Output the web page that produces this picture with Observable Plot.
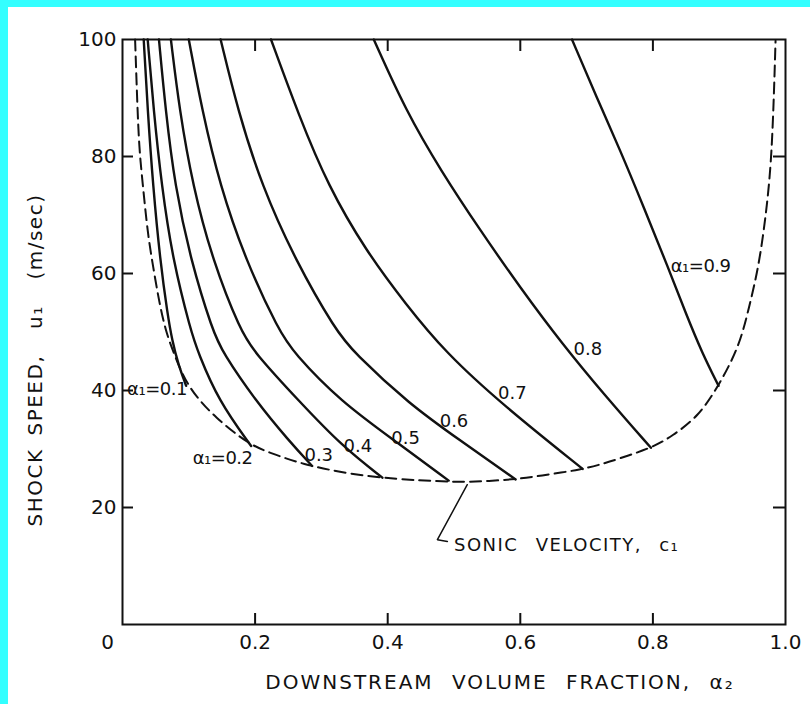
<!DOCTYPE html>
<html>
<head>
<meta charset="utf-8">
<script src="https://cdn.jsdelivr.net/npm/d3@7"></script>
<script src="https://cdn.jsdelivr.net/npm/@observablehq/plot@0.6"></script>
<style>
  html, body { margin: 0; padding: 0; background: #33ffff; width: 810px; height: 704px; overflow: hidden; }
  #wrap { position: absolute; left: 8px; top: 7px; width: 802px; height: 697px; background: #ffffff; }
  #wrap svg { display: block; }
</style>
</head>
<body>
<div id="wrap"></div>
<script>
// ---- Data ----
const alpha1Levels = [0.1, 0.2, 0.3, 0.4, 0.5, 0.6, 0.7, 0.8, 0.9];

const a2_01 = [0.032, 0.038, 0.046, 0.057, 0.068, 0.075, 0.084, 0.096];
const u_01  = [100, 87.9, 75.0, 62.0, 53.0, 48.5, 44.5, 40.8];
const a2_02 = [0.038, 0.047, 0.059, 0.076, 0.103, 0.114, 0.145, 0.194];
const u_02  = [100, 87.9, 75.0, 62.2, 50.2, 46.5, 38.2, 30.5];
const a2_03 = [0.055, 0.065, 0.079, 0.103, 0.136, 0.151, 0.201, 0.251, 0.286];
const u_03  = [100, 87.9, 75.0, 62.2, 50.2, 46.5, 38.2, 31.4, 27.1];
const a2_04 = [0.073, 0.086, 0.106, 0.136, 0.178, 0.199, 0.266, 0.332, 0.392];
const u_04  = [100, 87.9, 75.0, 62.2, 50.2, 46.5, 38.2, 30.4, 25.1];
const a2_05 = [0.100, 0.120, 0.147, 0.186, 0.236, 0.258, 0.328, 0.417, 0.492];
const u_05  = [100, 87.9, 75.0, 62.2, 50.2, 46.5, 38.2, 30.9, 24.6];
const a2_06 = [0.148, 0.174, 0.210, 0.261, 0.322, 0.349, 0.432, 0.510, 0.593];
const u_06  = [100, 87.9, 75.0, 62.2, 50.2, 46.5, 37.7, 31.4, 24.8];
const a2_07 = [0.224, 0.266, 0.310, 0.367, 0.427, 0.487, 0.575, 0.694];
const u_07  = [100, 87.0, 75.0, 63.9, 54.8, 46.5, 37.4, 26.6];
const a2_08 = [0.379, 0.427, 0.480, 0.540, 0.601, 0.663, 0.728, 0.797];
const u_08  = [100, 87.9, 77.6, 67.3, 57.4, 48.0, 39.1, 30.2];
const a2_09 = [0.678, 0.714, 0.751, 0.787, 0.822, 0.851, 0.874, 0.899];
const u_09  = [100, 90.4, 81.0, 71.1, 61.3, 52.8, 46.5, 40.8];

const sonicA2 = [0.019, 0.022, 0.025, 0.030, 0.038, 0.046, 0.055, 0.065, 0.077, 0.098, 0.141, 0.191, 0.221, 0.271, 0.342, 0.417, 0.477, 0.518, 0.593, 0.628, 0.694, 0.729, 0.799, 0.829, 0.869, 0.899, 0.930, 0.945, 0.960, 0.972, 0.980, 0.985];
const sonicU  = [100, 90.0, 81.6, 75.9, 66.8, 61.3, 55.3, 50.2, 46.5, 40.5, 35.2, 30.8, 29.4, 27.4, 25.7, 24.8, 24.5, 24.3, 24.8, 25.4, 26.5, 27.6, 30.2, 32.2, 35.6, 40.8, 47.4, 54.2, 61.3, 71.3, 81.0, 99.8];

const curveLabels = ["α₁=0.1", "α₁=0.2", "0.3", "0.4", "0.5", "0.6", "0.7", "0.8", "α₁=0.9"];
const labelA2 = [0.052, 0.151, 0.296, 0.355, 0.427, 0.500, 0.588, 0.702, 0.872];
const labelU  = [40.3, 28.5, 29.0, 30.4, 31.9, 34.8, 39.6, 47.1, 61.2];

const sonicLabel = "SONIC VELOCITY, c₁";
const sonicLabelA2 = [0.500];
const sonicLabelU = [13.6];
const leaderA2 = [0.520, 0.475, 0.490];
const leaderU  = [23.9, 14.5, 14.2];

const xTicks = [0.2, 0.4, 0.6, 0.8, 1.0];
const yTicks = [20, 40, 60, 80, 100];
const innerXTicks = [0.2, 0.4, 0.6, 0.8];
const innerYTicks = [20, 40, 60, 80];
const originLabel = "0";
const xTitle = "DOWNSTREAM VOLUME FRACTION, α₂";
const yTitle = "SHOCK SPEED,  u₁  (m/sec)";

// ---- Build tables ----
const seriesA2 = [a2_01, a2_02, a2_03, a2_04, a2_05, a2_06, a2_07, a2_08, a2_09];
const seriesU  = [u_01, u_02, u_03, u_04, u_05, u_06, u_07, u_08, u_09];
const curves = alpha1Levels.flatMap((a1, i) => seriesA2[i].map((a2, j) => ({a1, a2, u: seriesU[i][j]})));
const sonic = sonicA2.map((a2, i) => ({a2, u: sonicU[i]}));
const labels = curveLabels.map((t, i) => ({t, a2: labelA2[i], u: labelU[i]}));
const leader = leaderA2.map((a2, i) => ({a2, u: leaderU[i]}));

const W = 802, H = 697;
const mL = 114, mR = 25, mT = 32, mB = 80;
const plotW = W - mL - mR, plotH = H - mT - mB;
const ink = "#111";

const chart = Plot.plot({
  width: W,
  height: H,
  marginLeft: mL,
  marginRight: mR,
  marginTop: mT,
  marginBottom: mB,
  style: {fontFamily: "DejaVu Sans", fontSize: "20px", color: ink, background: "#fff"},
  x: {domain: [0, 1], ticks: xTicks, tickSize: 0, tickPadding: 10, tickFormat: d3.format(".1f"), label: null},
  y: {domain: [0, 100], ticks: yTicks, tickSize: 0, tickPadding: 6, label: null},
  marks: [
    Plot.frame({stroke: ink, strokeWidth: 2}),
    // inward ticks on all four sides
    Plot.tickX(innerXTicks, {x: d => d, stroke: ink, strokeWidth: 2, insetTop: plotH - 11}),
    Plot.tickX(innerXTicks, {x: d => d, stroke: ink, strokeWidth: 2, insetBottom: plotH - 12}),
    Plot.tickY(innerYTicks, {y: d => d, stroke: ink, strokeWidth: 2, insetRight: plotW - 11}),
    Plot.tickY(innerYTicks, {y: d => d, stroke: ink, strokeWidth: 2, insetLeft: plotW - 12}),
    // sonic velocity (dashed)
    Plot.line(sonic, {x: "a2", y: "u", curve: "basis", stroke: ink, strokeWidth: 2, strokeDasharray: "11,6"}),
    // shock speed curves
    Plot.line(curves, {x: "a2", y: "u", z: "a1", curve: "basis", stroke: ink, strokeWidth: 2.4}),
    // leader line for sonic label
    Plot.line(leader, {x: "a2", y: "u", stroke: ink, strokeWidth: 1.5}),
    // curve labels
    Plot.text(labels, {x: "a2", y: "u", text: "t", fontSize: 18, fill: ink}),
    Plot.text([sonicLabel], {x: () => sonicLabelA2[0], y: () => sonicLabelU[0], text: d => d, textAnchor: "start", fontSize: 18, fill: ink}),
    // shared origin label
    Plot.text([originLabel], {x: () => 0, y: () => 0, text: d => d, dx: -15, dy: 18, fontSize: 20, fill: ink}),
    // axis titles
    Plot.text([xTitle], {text: d => d, frameAnchor: "bottom", textAnchor: "middle", lineAnchor: "middle", dx: 46, dy: 58, fontSize: 20, fill: ink}),
    Plot.text([yTitle], {text: d => d, frameAnchor: "left", textAnchor: "middle", lineAnchor: "middle", dx: -87, dy: 28, rotate: -90, fontSize: 20, fill: ink})
  ]
});

const sel = d3.select(chart).selectAll("text");
sel.filter(function () { return this.textContent.startsWith("DOWNSTREAM"); })
  .attr("letter-spacing", "2px").attr("word-spacing", "10px").style("white-space", "pre");
sel.filter(function () { return this.textContent.startsWith("SHOCK"); })
  .attr("letter-spacing", "1.5px").attr("word-spacing", "5px").style("white-space", "pre");
sel.filter(function () { return this.textContent.startsWith("SONIC"); })
  .attr("letter-spacing", "1.5px").attr("word-spacing", "10px").style("white-space", "pre");
sel.filter(function () { return this.textContent.startsWith("α₁"); })
  .attr("letter-spacing", "-0.5px");

document.getElementById("wrap").appendChild(chart);
</script>
</body>
</html>
